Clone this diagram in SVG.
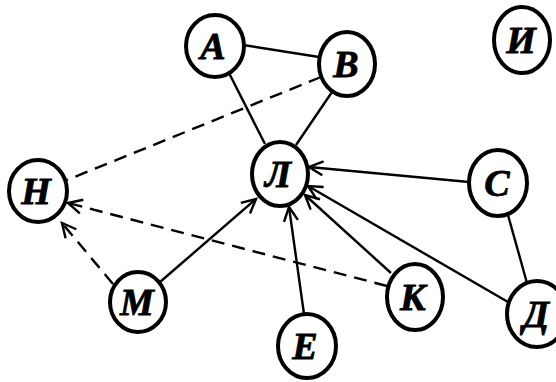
<svg xmlns="http://www.w3.org/2000/svg" width="556" height="382" viewBox="0 0 556 382">
  <style>
    .node ellipse { fill: #ffffff; stroke: #000000; stroke-width: 4; }
    .node text { font-family: "Liberation Serif", "DejaVu Serif", serif; font-size: 38px; font-weight: bold; font-style: italic; text-anchor: middle; fill: #000000; stroke: #000000; stroke-width: 0.8; }
    .edge { stroke: #000000; stroke-width: 2.4; fill: none; }
    .dash { stroke-dasharray: 13 8; }
    .arrow { marker-end: url(#vhead); }
  </style>
  <defs>
    <marker id="vhead" markerUnits="userSpaceOnUse" markerWidth="20" markerHeight="20" viewBox="-16 -10 20 20" refX="0" refY="0" orient="auto">
      <path d="M -14 -7 L 0 0 L -14 7" fill="none" stroke="#000000" stroke-width="2.4"/>
    </marker>
  </defs>
  <rect width="556" height="382" fill="#ffffff"/>

  <g id="connectors">
    <line class="edge" x1="243" y1="45" x2="319" y2="57"/>
    <line class="edge" x1="229" y1="73" x2="265" y2="144"/>
    <line class="edge" x1="332" y1="92" x2="296" y2="145"/>
    <line class="edge dash" x1="321" y1="77" x2="67" y2="180"/>
    <line class="edge dash arrow" x1="387" y1="286" x2="68" y2="203"/>
    <line class="edge dash arrow" x1="113" y1="284" x2="62" y2="223"/>
    <line class="edge arrow" x1="160" y1="282" x2="256" y2="199"/>
    <line class="edge arrow" x1="304" y1="314" x2="289" y2="207"/>
    <line class="edge arrow" x1="391" y1="273" x2="305" y2="195"/>
    <line class="edge arrow" x1="508" y1="302" x2="308" y2="186"/>
    <line class="edge arrow" x1="469" y1="182" x2="309" y2="167"/>
    <line class="edge" x1="508" y1="215" x2="527" y2="283"/>
  </g>

  <g id="node-A" class="node"><ellipse cx="215" cy="46" rx="29" ry="31"/><text x="213" y="59">А</text></g>
  <g id="node-B" class="node"><ellipse cx="347" cy="64" rx="28" ry="32"/><text x="346" y="77">В</text></g>
  <g id="node-I" class="node"><ellipse cx="522" cy="40" rx="28" ry="33"/><text x="521" y="53">И</text></g>
  <g id="node-L" class="node"><ellipse cx="280" cy="174" rx="28" ry="32"/><text x="278" y="187">Л</text></g>
  <g id="node-N" class="node"><ellipse cx="38" cy="191" rx="29" ry="31"/><text x="36" y="204">Н</text></g>
  <g id="node-S" class="node"><ellipse cx="498" cy="183" rx="29" ry="33"/><text x="497" y="196">С</text></g>
  <g id="node-M" class="node"><ellipse cx="138" cy="302" rx="28" ry="30"/><text x="137" y="315">М</text></g>
  <g id="node-K" class="node"><ellipse cx="415" cy="297" rx="28" ry="33"/><text x="413" y="310">К</text></g>
  <g id="node-D" class="node"><ellipse cx="537" cy="314" rx="30" ry="33"/><text x="536" y="327">Д</text></g>
  <g id="node-E" class="node"><ellipse cx="307" cy="346" rx="29" ry="32"/><text x="305" y="359">Е</text></g>
</svg>
